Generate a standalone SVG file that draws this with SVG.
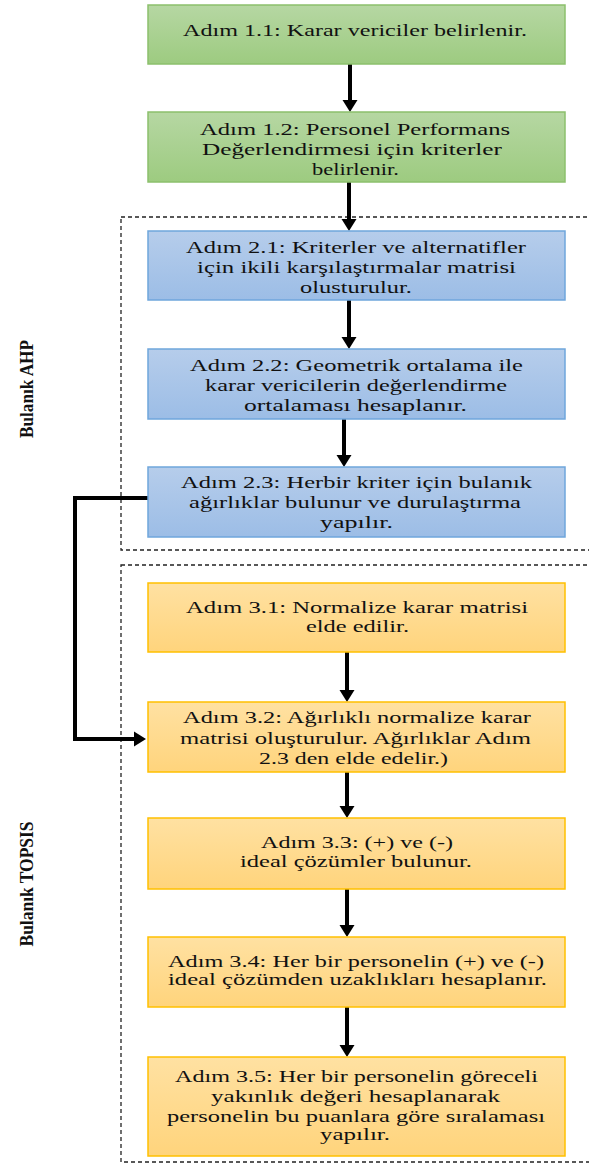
<svg xmlns="http://www.w3.org/2000/svg" width="589" height="1166" viewBox="0 0 589 1166">
<defs>
<linearGradient id="gGreen" x1="0" y1="0" x2="0" y2="1"><stop offset="0" stop-color="#b6d7a3"/><stop offset="1" stop-color="#9dcb80"/></linearGradient>
<linearGradient id="gBlue" x1="0" y1="0" x2="0" y2="1"><stop offset="0" stop-color="#b6cdeb"/><stop offset="1" stop-color="#9cbde6"/></linearGradient>
<linearGradient id="gOrange" x1="0" y1="0" x2="0" y2="1"><stop offset="0" stop-color="#ffe1a2"/><stop offset="1" stop-color="#ffd47c"/></linearGradient>
<marker id="ah" markerUnits="userSpaceOnUse" markerWidth="15" markerHeight="16" refX="0" refY="8" orient="auto" viewBox="0 0 12 16"><path d="M0,0.5 L12,8 L0,15.5 Z" fill="#000"/></marker>
<style>
.green{fill:url(#gGreen);stroke:#8cc06c;stroke-width:1.5}
.blue{fill:url(#gBlue);stroke:#6fa6dc;stroke-width:1.5}
.orange{fill:url(#gOrange);stroke:#ffc000;stroke-width:1.5}
.t{font-family:"Liberation Serif","Times New Roman",serif;font-size:16.5px;fill:#111}
.side{font-family:"Liberation Serif","Times New Roman",serif;font-size:18px;font-weight:bold;fill:#111}
.dash{fill:none;stroke:#222;stroke-width:1.3;stroke-dasharray:4 3}
.conn{fill:none;stroke:#000;stroke-width:4;marker-end:url(#ah)}
</style>
</defs>
<rect width="589" height="1166" fill="#fff"/>

<g id="group-ahp">
<rect class="dash" x="121" y="217" width="475" height="333"/>
<text class="side" transform="translate(33,389) rotate(-90)" text-anchor="middle" textLength="98" lengthAdjust="spacingAndGlyphs">Bulanık AHP</text>
</g>
<g id="group-topsis">
<rect class="dash" x="121" y="565" width="475" height="597"/>
<text class="side" transform="translate(33,884) rotate(-90)" text-anchor="middle" textLength="125" lengthAdjust="spacingAndGlyphs">Bulanık TOPSIS</text>
</g>

<g id="connectors">
<line class="conn" x1="350" y1="64" x2="350" y2="100"/>
<line class="conn" x1="349" y1="182" x2="349" y2="219"/>
<line class="conn" x1="349" y1="300" x2="349" y2="337"/>
<line class="conn" x1="344" y1="419" x2="344" y2="455"/>
<line class="conn" x1="347" y1="652" x2="347" y2="690"/>
<line class="conn" x1="347" y1="772" x2="347" y2="806"/>
<line class="conn" x1="347" y1="889" x2="347" y2="925"/>
<line class="conn" x1="347" y1="1007" x2="347" y2="1045"/>
<polyline class="conn" points="148,498 75,498 75,739 134,739"/>
</g>

<g id="step-1-1">
<rect class="green" x="148" y="5" width="417" height="59"/>
<text class="t" x="183" y="36" textLength="344" lengthAdjust="spacingAndGlyphs">Adım 1.1: Karar vericiler belirlenir.</text>
</g>
<g id="step-1-2">
<rect class="green" x="148" y="112" width="417" height="70"/>
<text class="t" x="200" y="135" textLength="310" lengthAdjust="spacingAndGlyphs">Adım 1.2: Personel Performans</text>
<text class="t" x="202" y="155" textLength="300" lengthAdjust="spacingAndGlyphs">Değerlendirmesi için kriterler</text>
<text class="t" x="312" y="175" textLength="87" lengthAdjust="spacingAndGlyphs">belirlenir.</text>
</g>

<g id="step-2-1">
<rect class="blue" x="148" y="231" width="417" height="69"/>
<text class="t" x="186" y="253" textLength="340" lengthAdjust="spacingAndGlyphs">Adım 2.1: Kriterler  ve alternatifler</text>
<text class="t" x="197" y="273" textLength="319" lengthAdjust="spacingAndGlyphs">için ikili karşılaştırmalar matrisi</text>
<text class="t" x="300" y="293" textLength="112" lengthAdjust="spacingAndGlyphs">olusturulur.</text>
</g>
<g id="step-2-2">
<rect class="blue" x="148" y="349" width="417" height="70"/>
<text class="t" x="190" y="371" textLength="333" lengthAdjust="spacingAndGlyphs">Adım 2.2: Geometrik ortalama ile</text>
<text class="t" x="205" y="391" textLength="302" lengthAdjust="spacingAndGlyphs">karar vericilerin  değerlendirme</text>
<text class="t" x="244" y="411" textLength="223" lengthAdjust="spacingAndGlyphs">ortalaması hesaplanır.</text>
</g>
<g id="step-2-3">
<rect class="blue" x="148" y="467" width="417" height="70"/>
<text class="t" x="181" y="488" textLength="351" lengthAdjust="spacingAndGlyphs">Adım 2.3: Herbir kriter için bulanık</text>
<text class="t" x="189" y="508" textLength="332" lengthAdjust="spacingAndGlyphs">ağırlıklar bulunur ve durulaştırma</text>
<text class="t" x="320" y="528" textLength="73" lengthAdjust="spacingAndGlyphs">yapılır.</text>
</g>

<g id="step-3-1">
<rect class="orange" x="148" y="583" width="417" height="69"/>
<text class="t" x="186" y="613" textLength="342" lengthAdjust="spacingAndGlyphs">Adım 3.1: Normalize karar matrisi</text>
<text class="t" x="306" y="632" textLength="103" lengthAdjust="spacingAndGlyphs">elde edilir.</text>
</g>
<g id="step-3-2">
<rect class="orange" x="148" y="702" width="417" height="70"/>
<text class="t" x="183" y="723" textLength="348" lengthAdjust="spacingAndGlyphs">Adım 3.2: Ağırlıklı  normalize karar</text>
<text class="t" x="180" y="744" textLength="351" lengthAdjust="spacingAndGlyphs">matrisi oluşturulur. Ağırlıklar Adım</text>
<text class="t" x="259" y="764" textLength="189" lengthAdjust="spacingAndGlyphs">2.3 den elde edelir.)</text>
</g>
<g id="step-3-3">
<rect class="orange" x="148" y="818" width="417" height="71"/>
<text class="t" x="261" y="848" textLength="192" lengthAdjust="spacingAndGlyphs">Adım 3.3: (+) ve (-)</text>
<text class="t" x="240" y="867" textLength="232" lengthAdjust="spacingAndGlyphs">ideal çözümler bulunur.</text>
</g>
<g id="step-3-4">
<rect class="orange" x="148" y="937" width="417" height="70"/>
<text class="t" x="168" y="967" textLength="376" lengthAdjust="spacingAndGlyphs">Adım 3.4: Her bir personelin (+)  ve (-)</text>
<text class="t" x="168" y="985" textLength="379" lengthAdjust="spacingAndGlyphs">ideal çözümden uzaklıkları hesaplanır.</text>
</g>
<g id="step-3-5">
<rect class="orange" x="148" y="1057" width="417" height="99"/>
<text class="t" x="175" y="1082" textLength="363" lengthAdjust="spacingAndGlyphs">Adım 3.5: Her bir personelin göreceli</text>
<text class="t" x="211" y="1102" textLength="289" lengthAdjust="spacingAndGlyphs">yakınlık değeri hesaplanarak</text>
<text class="t" x="167" y="1122" textLength="378" lengthAdjust="spacingAndGlyphs">personelin bu puanlara göre sıralaması</text>
<text class="t" x="320" y="1140" textLength="70" lengthAdjust="spacingAndGlyphs">yapılır.</text>
</g>
</svg>
